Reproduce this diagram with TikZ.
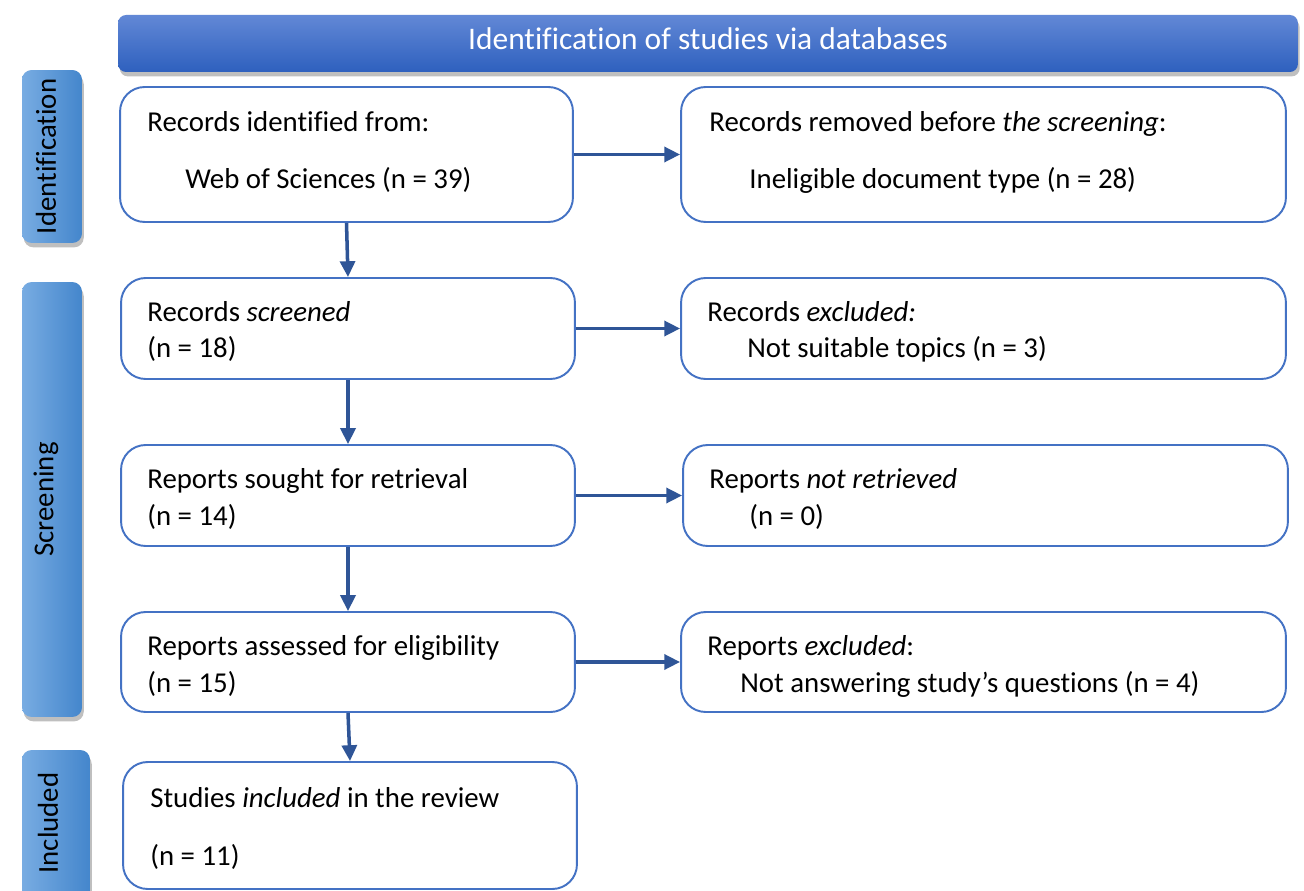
\documentclass[tikz,border=0pt]{standalone}
\usepackage{fontspec}
\setmainfont{Carlito}[Ligatures=NoCommon]
\usetikzlibrary{arrows.meta,positioning,shadows}
\definecolor{BoxBlue}{RGB}{68,114,196}
\definecolor{FlowBlue}{RGB}{47,85,151}
\definecolor{HeadTop}{RGB}{98,136,214}
\definecolor{HeadBottom}{RGB}{46,96,190}
\definecolor{BarLeft}{RGB}{120,172,226}
\definecolor{BarRight}{RGB}{68,134,204}

\begin{document}
\begin{tikzpicture}[x=0.02cm,y=-0.02cm,>=Latex,
    box/.style={draw=BoxBlue,line width=1.1pt,rounded corners=14pt,fill=white,inner sep=0pt},
    flow/.style={-{Triangle[length=9pt,width=8.5pt]},line width=2pt,FlowBlue},
    txt/.style={anchor=base west,inner sep=0pt,font=\fontsize{16.4}{20}\selectfont},
    bar/.style={rounded corners=5.5pt,left color=BarLeft,right color=BarRight,
      minimum width=1.2cm,inner sep=0pt,
      drop shadow={shadow xshift=1pt,shadow yshift=-2.5pt,opacity=0.25,fill=black}},
    head/.style={rounded corners=4.5pt,top color=HeadTop,bottom color=HeadBottom,
      minimum width=23.6cm,minimum height=1.14cm,inner sep=0pt,
      drop shadow={shadow xshift=1pt,shadow yshift=-2.5pt,opacity=0.25,fill=black}}
  ]
  \useasboundingbox[fill=white] (0,0) rectangle (1304,891);

  % header and phase bars
  \node[head] (title) at (708,43.5) {};
  \node[white,font=\fontsize{17.9}{21}\selectfont] (titletxt) at (708,39) {Identification of studies via databases};
  \node[bar,minimum height=3.46cm] (idbar) at (52,156.5) {};
  \node[bar,minimum height=8.7cm] (scbar) at (52,499.5) {};
  \node[bar,minimum width=1.36cm,minimum height=3cm] (inbar) at (56,825) {};
  \node[rotate=90,font=\fontsize{16.4}{20}\selectfont] (idtxt) at (46,156.5) {Identification};
  \node[rotate=90,font=\fontsize{16.4}{20}\selectfont] (sctxt) at (46,499.5) {Screening};
  \node[rotate=90,font=\fontsize{16.4}{20}\selectfont] (intxt) at (48,823) {Included};

  % left column
  \node[box,minimum width=9.06cm,minimum height=2.7cm] (ident) at (346.5,154.5) {};
  \node[box,minimum width=9.08cm,minimum height=2.02cm] (screen) at (348,328.5) {};
  \node[box,minimum width=9.08cm,minimum height=2.02cm] (sought) at (348,495.5) {};
  \node[box,minimum width=9.08cm,minimum height=2.0cm] (assess) at (348,662) {};
  \node[box,minimum width=9.08cm,minimum height=2.54cm] (incl) at (350,825.5) {};

  % right column
  \node[box,minimum width=12.1cm,minimum height=2.7cm] (removed) at (983.5,154.5) {};
  \node[box,minimum width=12.1cm,minimum height=2.02cm] (excl) at (983.5,328.5) {};
  \node[box,minimum width=12.1cm,minimum height=2.02cm] (notret) at (985.5,495.5) {};
  \node[box,minimum width=12.1cm,minimum height=2.0cm] (repexcl) at (983.5,662) {};

  % texts
  \node[txt] (t1) at (147,132) {Records identified from:};
  \node[txt] (t2) at (185,189) {Web of Sciences (n = 39)};
  \node[txt] (t3) at (147,322) {Records \textit{screened}};
  \node[txt] (t4) at (147,358) {(n = 18)};
  \node[txt] (t5) at (147,488) {Reports sought for retrieval};
  \node[txt] (t6) at (147,525) {(n = 14)};
  \node[txt] (t7) at (147,655) {Reports assessed for eligibility};
  \node[txt] (t8) at (147,692) {(n = 15)};
  \node[txt] (t9) at (150,807) {Studies \textit{included} in the review};
  \node[txt] (t10) at (150,865) {(n = 11)};
  \node[txt] (r1) at (709,132) {Records removed before \textit{the screening}:};
  \node[txt] (r2) at (749,189) {Ineligible document type (n = 28)};
  \node[txt] (r3) at (707,322) {Records \textit{excluded:}};
  \node[txt] (r4) at (747,358) {Not suitable topics (n = 3)};
  \node[txt] (r5) at (709,488) {Reports \textit{not retrieved}};
  \node[txt] (r6) at (749,525) {(n = 0)};
  \node[txt] (r7) at (707,655) {Reports \textit{excluded}:};
  \node[txt] (r8) at (740,692) {Not answering study’s questions (n = 4)};

  % connectors
  \draw[flow] (ident.south) -- (screen.north);
  \draw[flow] (screen.south) -- (sought.north);
  \draw[flow] (sought.south) -- (assess.north);
  \draw[flow] (assess.south) -- (incl.north);
  \draw[flow] (ident.east) -- (removed.west);
  \draw[flow] (screen.east) -- (excl.west);
  \draw[flow] (sought.east) -- (notret.west);
  \draw[flow] (assess.east) -- (repexcl.west);
\end{tikzpicture}
\end{document}
